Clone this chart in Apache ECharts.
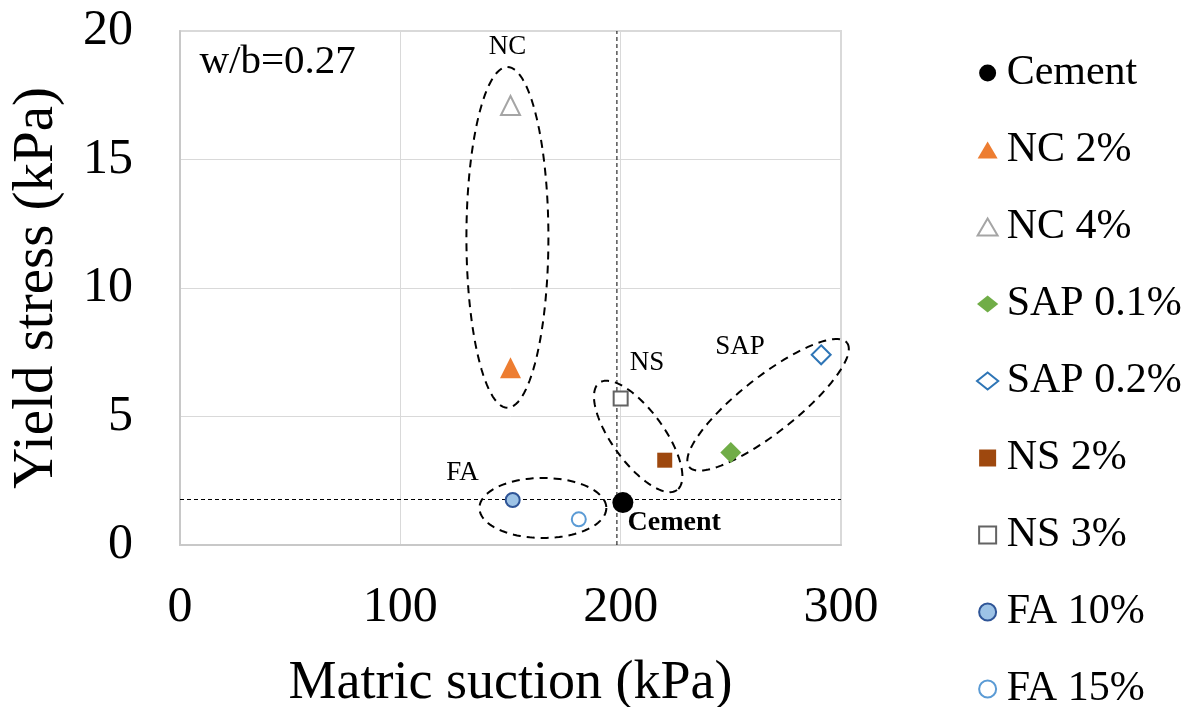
<!DOCTYPE html>
<html><head><meta charset="utf-8">
<script src="https://cdn.jsdelivr.net/npm/echarts@6/dist/echarts.min.js"></script>
<style>html,body{margin:0;padding:0;background:#fff}#c{width:1188px;height:707px}</style>
</head><body><div id="c"></div>
<script>
// ---- data ----
const seriesNames   = ['Cement','NC 2%','NC 4%','SAP 0.1%','SAP 0.2%','NS 2%','NS 3%','FA 10%','FA 15%'];
const matricSuction = [201, 150, 150, 250, 291, 220, 200, 151, 181];
const yieldStress   = [1.65, 6.9, 17.1, 3.6, 7.4, 3.3, 5.7, 1.75, 1.0];
const xTicks = [0, 100, 200, 300];
const yTicks = [0, 5, 10, 15, 20];
const refSuction = 198.3;
const refYield = 1.77;
const annotationTexts = ['NC', 'NS', 'SAP', 'FA', 'Cement', 'w/b=0.27'];
const annotationX     = [148.6, 212, 254.2, 128.2, 224.3, 44.3];
const annotationY     = [19.4, 7.09, 7.72, 2.8, 0.86, 18.8];
const groupNames   = ['NC', 'FA', 'NS', 'SAP'];
const groupStartX  = [148.6, 135.9, 190.3, 231.1];
const groupStartY  = [18.6, 1.44, 6.31, 3.04];
const groupEndX    = [148.6, 193.5, 225.6, 302.7];
const groupEndY    = [5.34, 1.44, 2.14, 7.87];

// ---- styles ----
const FONT = '"Liberation Serif","Times New Roman",serif';
const ELLIPSE_HALF_WIDTH = [41, 30, 26, 28];
const ANNOT_STYLE = {
  'NC': {size: 27, weight: 'normal'}, 'NS': {size: 27, weight: 'normal'},
  'SAP': {size: 27, weight: 'normal'}, 'FA': {size: 27, weight: 'normal'},
  'Cement': {size: 28, weight: 'bold'}, 'w/b=0.27': {size: 41, weight: 'normal'}
};
const ICON_TRI = 'path://M10,0 L20,17 L0,17 Z';
const ICON_DIA = 'path://M10,0 L20,8 L10,16 L0,8 Z';
const ICON_SQ  = 'path://M0,0 L14,0 L14,14 L0,14 Z';
const MARK_STYLE = [
  {symbol: 'circle',   size: 21, icon: 'circle',  itemStyle: {color: '#000000'}},
  {symbol: 'triangle', size: 21, icon: ICON_TRI, itemStyle: {color: '#ED7D31'}},
  {symbol: 'triangle', size: 19, icon: ICON_TRI, itemStyle: {color: '#ffffff', borderColor: '#A5A5A5', borderWidth: 2}},
  {symbol: 'diamond',  size: 21, icon: ICON_DIA, itemStyle: {color: '#70AD47'}},
  {symbol: 'diamond',  size: 19, icon: ICON_DIA, itemStyle: {color: '#ffffff', borderColor: '#2E75B6', borderWidth: 2}},
  {symbol: 'rect',     size: 15, icon: ICON_SQ,  itemStyle: {color: '#9E480E'}},
  {symbol: 'rect',     size: 14, icon: ICON_SQ,  itemStyle: {color: '#ffffff', borderColor: '#636363', borderWidth: 2}},
  {symbol: 'circle',   size: 14, icon: 'circle',  itemStyle: {color: '#9DC3E6', borderColor: '#2F5597', borderWidth: 2}},
  {symbol: 'circle',   size: 14, icon: 'circle',  itemStyle: {color: '#ffffff', borderColor: '#5B9BD5', borderWidth: 2}}
];

const chart = echarts.init(document.getElementById('c'), null, {renderer: 'canvas'});

const series = [];
// reference dashed lines
series.push({
  type: 'line', name: 'refV', data: [[refSuction, yTicks[0]], [refSuction, yTicks[yTicks.length - 1]]],
  symbol: 'none', lineStyle: {color: '#000', width: 1, type: [4, 3]}, z: 1, silent: true
});
series.push({
  type: 'line', name: 'refH', data: [[xTicks[0], refYield], [xTicks[xTicks.length - 1], refYield]],
  symbol: 'none', lineStyle: {color: '#000', width: 1, type: [4, 3]}, z: 1, silent: true
});
// group ellipses
series.push({
  type: 'custom', name: 'groups', clip: false, silent: true, z: 2,
  data: groupNames.map((n, i) => [groupStartX[i], groupStartY[i], groupEndX[i], groupEndY[i]]),
  encode: {x: [0, 2], y: [1, 3]},
  renderItem: function (params, api) {
    const p1 = api.coord([api.value(0), api.value(1)]);
    const p2 = api.coord([api.value(2), api.value(3)]);
    const cx = (p1[0] + p2[0]) / 2, cy = (p1[1] + p2[1]) / 2;
    const dx = p2[0] - p1[0], dy = p2[1] - p1[1];
    const a = Math.hypot(dx, dy) / 2;
    const ux = dx / (2 * a), uy = dy / (2 * a);
    const vx = -uy, vy = ux;
    const b = ELLIPSE_HALF_WIDTH[params.dataIndex];
    const pts = [];
    const N = 120;
    for (let k = 0; k <= N; k++) {
      const t = k / N * 2 * Math.PI;
      pts.push([cx + ux * a * Math.cos(t) + vx * b * Math.sin(t),
                cy + uy * a * Math.cos(t) + vy * b * Math.sin(t)]);
    }
    return {type: 'polyline', shape: {points: pts},
      style: {fill: null, stroke: '#000', lineWidth: 2, lineDash: [8, 6]}};
  }
});
// text annotations
series.push({
  type: 'custom', name: 'annotations', clip: false, silent: true, z: 5,
  data: annotationTexts.map((t, i) => [annotationX[i], annotationY[i]]),
  encode: {x: 0, y: 1},
  renderItem: function (params, api) {
    const p = api.coord([api.value(0), api.value(1)]);
    const t = annotationTexts[params.dataIndex];
    const st = ANNOT_STYLE[t];
    return {type: 'text', x: p[0], y: p[1],
      style: {text: t, fontSize: st.size, fontWeight: st.weight, fontFamily: FONT,
        fill: '#000', align: 'center', verticalAlign: 'middle'}};
  }
});
// data points
seriesNames.forEach((n, i) => {
  series.push({
    type: 'scatter', name: n, data: [[matricSuction[i], yieldStress[i]]],
    symbol: MARK_STYLE[i].symbol, symbolSize: MARK_STYLE[i].size, symbolKeepAspect: true,
    itemStyle: Object.assign({opacity: 1}, MARK_STYLE[i].itemStyle), z: 4
  });
});

chart.setOption({
  animation: false,
  backgroundColor: '#fff',
  grid: {left: 180, right: 347, top: 31, bottom: 162, show: true, borderColor: '#D9D9D9', borderWidth: 2,
         containLabel: false, outerBoundsMode: 'none'},
  xAxis: {
    type: 'value', min: xTicks[0], max: xTicks[xTicks.length - 1], interval: xTicks[1] - xTicks[0],
    name: 'Matric suction (kPa)', nameLocation: 'middle', nameGap: 112,
    nameTextStyle: {fontFamily: FONT, fontSize: 54, color: '#000'},
    axisLine: {show: true, lineStyle: {color: '#C8C8C8', width: 2}},
    axisTick: {show: false},
    axisLabel: {fontFamily: FONT, fontSize: 50, color: '#000', margin: 38},
    splitLine: {show: true, lineStyle: {color: '#D9D9D9', width: 1}}
  },
  yAxis: {
    type: 'value', min: yTicks[0], max: yTicks[yTicks.length - 1], interval: yTicks[1] - yTicks[0],
    name: 'Yield stress (kPa)', nameLocation: 'middle', nameGap: 114, nameRotate: 90,
    nameTextStyle: {fontFamily: FONT, fontSize: 57, color: '#000'},
    axisLine: {show: true, lineStyle: {color: '#C8C8C8', width: 2}},
    axisTick: {show: false},
    axisLabel: {fontFamily: FONT, fontSize: 50, color: '#000', margin: 47},
    splitLine: {show: true, lineStyle: {color: '#D9D9D9', width: 1}}
  },
  legend: {
    data: seriesNames.map((n, i) => ({name: n, icon: MARK_STYLE[i].icon})),
    orient: 'vertical', left: 976, top: 52, height: 680, padding: 0,
    itemWidth: 28, itemHeight: 17, itemGap: 35, symbolKeepAspect: true,
    textStyle: {fontFamily: FONT, fontSize: 42, lineHeight: 40, color: '#000'},
    selectedMode: false
  },
  series: series
});
</script>
</body></html>
